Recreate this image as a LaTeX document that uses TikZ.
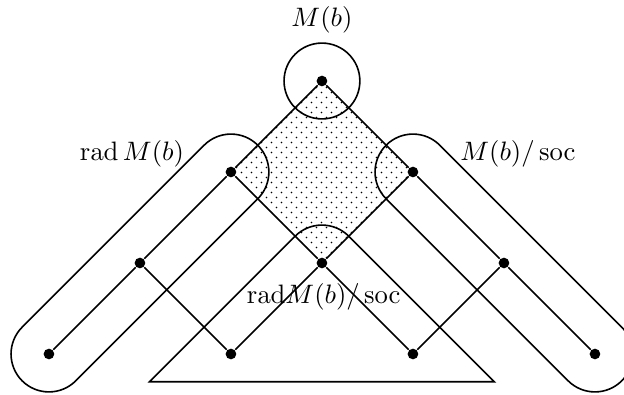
\documentclass[tikz,border=0pt]{standalone}
\usepackage{amsmath,amssymb}
\usepackage{tikz}
\usetikzlibrary{calc,patterns}

\pgfdeclarepatternformonly{finedots}{\pgfpointorigin}{\pgfqpoint{3.75pt}{3.75pt}}{\pgfqpoint{3.75pt}{3.75pt}}{%
  \pgfpathcircle{\pgfqpoint{0.94pt}{0.94pt}}{0.3pt}%
  \pgfpathcircle{\pgfqpoint{2.81pt}{2.81pt}}{0.3pt}%
  \pgfusepath{fill}}
\newcommand{\capr}{5mm}

\begin{document}
\begin{tikzpicture}[x=1.2cm,y=1.2cm,line width=0.6pt,
  vtx/.style={circle,fill,inner sep=0pt,minimum size=4pt},
  lbl/.style={inner sep=1pt}]
\useasboundingbox (-3.538,-3.440) rectangle (3.319,0.890);
% Hasse diagram vertices
\node[vtx] (vTop) at (0,0) {};
\node[vtx] (vL) at (-1,-1) {};
\node[vtx] (vR) at (1,-1) {};
\node[vtx] (vLL) at (-2,-2) {};
\node[vtx] (vM) at (0,-2) {};
\node[vtx] (vRR) at (2,-2) {};
\node[vtx] (vA) at (-3,-3) {};
\node[vtx] (vB) at (-1,-3) {};
\node[vtx] (vC) at (1,-3) {};
\node[vtx] (vD) at (3,-3) {};
% dotted diamond
\fill[pattern=finedots] (vTop.center) -- (vL.center) -- (vM.center) -- (vR.center) -- cycle;
% edges
\foreach \u/\w in {vTop/vL,vTop/vR,vL/vLL,vL/vM,vR/vM,vR/vRR,vLL/vA,vLL/vB,vM/vB,vM/vC,vRR/vC,vRR/vD}
  \draw (\u) -- (\w);
% top circle
\draw (vTop.center) circle[radius=\capr];
% left capsule
\draw ($(vL.center)+(135:\capr)$) arc[start angle=135,end angle=-45,radius=\capr]
  -- ($(vA.center)+(-45:\capr)$) arc[start angle=-45,end angle=-225,radius=\capr] -- cycle;
% right capsule
\draw ($(vR.center)+(225:\capr)$) arc[start angle=225,end angle=45,radius=\capr]
  -- ($(vD.center)+(45:\capr)$) arc[start angle=45,end angle=-135,radius=\capr] -- cycle;
% lower triangle
\coordinate (triL) at ($(vM.center)+(135:\capr)+(-1.6,-1.6)$);
\coordinate (triR) at ($(vM.center)+(45:\capr)+(1.6,-1.6)$);
\draw (triL) -- ($(vM.center)+(135:\capr)$) arc[start angle=135,end angle=45,radius=\capr]
  -- (triR) -- cycle;
% labels
\node[lbl] (lbTop) at ($(vTop)+(0,0.67)$) {$M(b)$};
\node[lbl] (lbRad) at (-2.088,-0.797) {$\operatorname{rad} M(b)$};
\node[lbl] (lbSoc) at (2.154,-0.797) {$M(b)/\operatorname{soc}$};
\node[lbl] (lbMid) at (0.02,-2.368) {$\mathrm{rad}M(b)/\operatorname{soc}$};
\end{tikzpicture}
\end{document}
